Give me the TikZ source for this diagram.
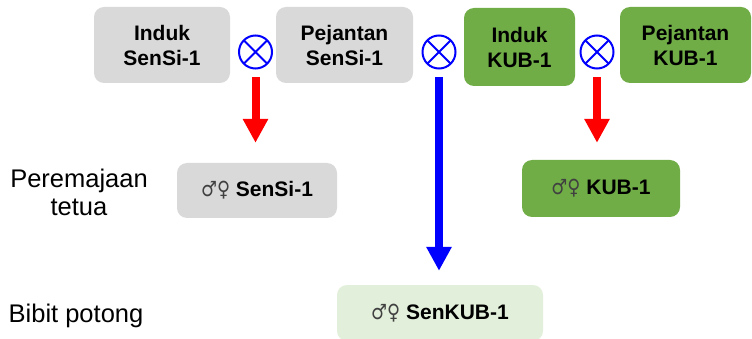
\documentclass[tikz,border=0pt]{standalone}
\usepackage{fontspec}
\setmainfont{Liberation Sans}
\newfontfamily\symfont{DejaVu Sans}
\usetikzlibrary{arrows.meta}

\definecolor{boxgray}{HTML}{D9D9D9}
\definecolor{boxgreen}{HTML}{70AD47}
\definecolor{boxpale}{HTML}{E2EFDA}
\definecolor{symgray}{HTML}{404040}

\newcommand{\sexsym}{{\symfont\color{symgray}\fontsize{21}{21}\selectfont\scalebox{0.85}[1]{♂♀}}}

\tikzset{
  parent/.style={rounded corners=10pt, inner sep=0pt, align=center,
    font=\bfseries\fontsize{21}{25}\selectfont, text=black},
  offspring/.style={rounded corners=10pt, inner sep=0pt,
    font=\bfseries\fontsize{21}{25}\selectfont, text=black},
  label/.style={font=\fontsize{25.5}{28}\selectfont, align=center, inner sep=0pt},
  crossing/.style={circle, draw=blue, line width=2pt, minimum size=33pt, inner sep=0pt,
    path picture={\draw[blue, line width=1.8pt]
      (path picture bounding box.south west) -- (path picture bounding box.north east)
      (path picture bounding box.north west) -- (path picture bounding box.south east);}},
  bigarrow/.style={line width=8pt, -{Triangle[width=24pt,length=24pt]}},
}

\begin{document}
\begin{tikzpicture}[x=1pt, y=-1pt]
\useasboundingbox (0,0) rectangle (752,339);

% parent lines
\node[parent, fill=boxgray, minimum width=136pt, minimum height=76pt] (indsensi) at (162,45) {Induk\\SenSi-1};
\node[parent, fill=boxgray, minimum width=137pt, minimum height=76pt] (pejsensi) at (344.5,45) {Pejantan\\SenSi-1};
\node[parent, fill=boxgreen, minimum width=111pt, minimum height=78pt] (indkub) at (519.5,47) {Induk\\KUB-1};
\node[parent, fill=boxgreen, minimum width=131pt, minimum height=76pt] (pejkub) at (685.5,45) {Pejantan\\KUB-1};

% crossing marks
\node[crossing] (x1) at (255.5,52) {};
\node[crossing] (x2) at (439,52) {};
\node[crossing] (x3) at (597,52) {};

% offspring
\node[offspring, fill=boxgray, minimum width=160pt, minimum height=55pt] (sensi) at (257,190.5) {\sexsym\ SenSi-1};
\node[offspring, fill=boxgreen, minimum width=158pt, minimum height=57pt] (kub) at (601,188.5) {\sexsym\ KUB-1};
\node[offspring, fill=boxpale, minimum width=206pt, minimum height=56pt] (senkub) at (440,313) {\sexsym\ SenKUB-1};

% row labels
\node[label] (lblrenew) at (79,192) {Peremajaan\\tetua};
\node[label, anchor=base] (lblbroiler) at (76,322) {Bibit potong};

% arrows
\draw[bigarrow, red, shorten <=8pt, shorten >=20pt] (x1.south) -- (x1.south |- sensi.north);
\draw[bigarrow, blue, shorten <=8pt, shorten >=14pt] (x2.south) -- (x2.south |- senkub.north);
\draw[bigarrow, red, shorten <=8pt, shorten >=17pt] (x3.south) -- (x3.south |- kub.north);
\end{tikzpicture}
\end{document}
